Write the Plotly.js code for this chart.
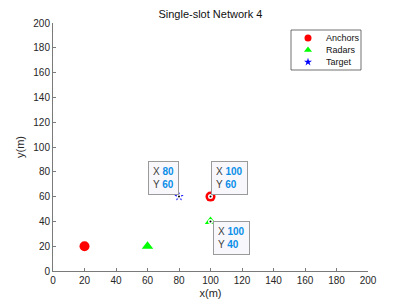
<!DOCTYPE html>
<html><head><meta charset="utf-8">
<script src="https://cdn.plot.ly/plotly-3.0.1.min.js"></script>
<style>body{margin:0;padding:0;background:#fff}#chart{width:407px;height:306px}</style>
</head><body><div id="chart"></div>
<script>
const anchorsX = [20, 100];
const anchorsY = [20, 60];
const radarsX = [60, 100];
const radarsY = [20, 40];
const targetX = [80];
const targetY = [60];
const tipX = [80, 100, 100];
const tipY = [60, 60, 40];
const tickVals = [0, 20, 40, 60, 80, 100, 120, 140, 160, 180, 200];
const legendNames = ['Anchors', 'Radars', 'Target'];

const font = "Liberation Sans, Arial, sans-serif";
const styles = [
  {symbol: 'circle', color: '#ff0000', size: 10},
  {symbol: 'triangle-up', color: '#00ff00', size: 10},
  {symbol: 'star', color: '#0000ff', size: 7}
];
const series = [[anchorsX, anchorsY], [radarsX, radarsY], [targetX, targetY]];

const traces = series.map((s, i) => ({
  x: s[0], y: s[1], name: legendNames[i], mode: 'markers', type: 'scatter', showlegend: false,
  marker: {symbol: styles[i].symbol, color: styles[i].color, size: styles[i].size}
}));
traces.push({x: tipX, y: tipY, mode: 'markers', type: 'scatter', showlegend: false, hoverinfo: 'skip',
  marker: {symbol: 'circle', color: '#000', size: 3.5, line: {color: '#fff', width: 1.5}}});

// manual legend on a pixel-like overlay axis
const legRowY = [38, 50, 62];
legendNames.forEach((n, i) => {
  traces.push({x: [308], y: [legRowY[i]], xaxis: 'x2', yaxis: 'y2', mode: 'markers', type: 'scatter',
    showlegend: false, hoverinfo: 'skip',
    marker: {symbol: styles[i].symbol, color: styles[i].color, size: i === 2 ? 6 : 7}});
});

const anchorsSpec = [
  {xa: 'right', ya: 'bottom', xs: 0, ys: 2},
  {xa: 'left', ya: 'bottom', xs: 0, ys: 2},
  {xa: 'left', ya: 'top', xs: 2, ys: 0}
];
const annotations = tipX.map((x, i) => ({
  x: x, y: tipY[i], xref: 'x', yref: 'y', showarrow: false,
  xanchor: anchorsSpec[i].xa, yanchor: anchorsSpec[i].ya,
  xshift: anchorsSpec[i].xs, yshift: anchorsSpec[i].ys,
  align: 'left',
  text: "X <b><span style='color:#0b8ee8'>" + x + "</span></b><br>Y <b><span style='color:#0b8ee8'>" + tipY[i] + "</span></b>",
  font: {family: font, size: 10, color: '#404040'},
  bgcolor: '#f8f8fc', bordercolor: '#9a9a9a', borderwidth: 1, borderpad: 4
}));
legendNames.forEach((n, i) => {
  annotations.push({x: 324, y: legRowY[i], xref: 'x2', yref: 'y2', showarrow: false,
    xanchor: 'left', yanchor: 'middle', text: n, font: {family: font, size: 9, color: '#111'}});
});

const axisCommon = {
  range: [0, 200], tickvals: tickVals, ticktext: tickVals.map(String),
  showgrid: false, zeroline: false, showline: true, linecolor: '#7a7a7a', linewidth: 1,
  ticks: 'inside', ticklen: 3, tickcolor: '#7a7a7a', mirror: false,
  tickfont: {family: font, size: 10, color: '#262626'}, fixedrange: true
};

const layout = {
  width: 407, height: 306,
  margin: {l: 53, r: 39, t: 23, b: 35},
  paper_bgcolor: '#fff', plot_bgcolor: '#fff',
  title: {text: 'Single-slot Network 4', font: {family: font, size: 11, color: '#111'}, x: 0.517, xanchor: 'center', y: 0.955, yanchor: 'middle'},
  xaxis: Object.assign({}, axisCommon, {title: {text: 'x(m)', font: {family: font, size: 11, color: '#262626'}, standoff: 4}}),
  yaxis: Object.assign({}, axisCommon, {title: {text: 'y(m)', font: {family: font, size: 11, color: '#262626'}, standoff: 6}}),
  xaxis2: {overlaying: 'x', anchor: 'y2', range: [53, 368], visible: false, fixedrange: true},
  yaxis2: {overlaying: 'y', anchor: 'x2', range: [271, 23], visible: false, fixedrange: true},
  showlegend: false,
  shapes: [{type: 'rect', xref: 'x2', yref: 'y2', x0: 291, x1: 361, y0: 30, y1: 70,
    line: {color: '#333', width: 0.7}, fillcolor: 'rgba(255,255,255,0)', layer: 'below'}],
  annotations: annotations
};
Plotly.newPlot('chart', traces, layout, {displayModeBar: false, staticPlot: true});
</script></body></html>
